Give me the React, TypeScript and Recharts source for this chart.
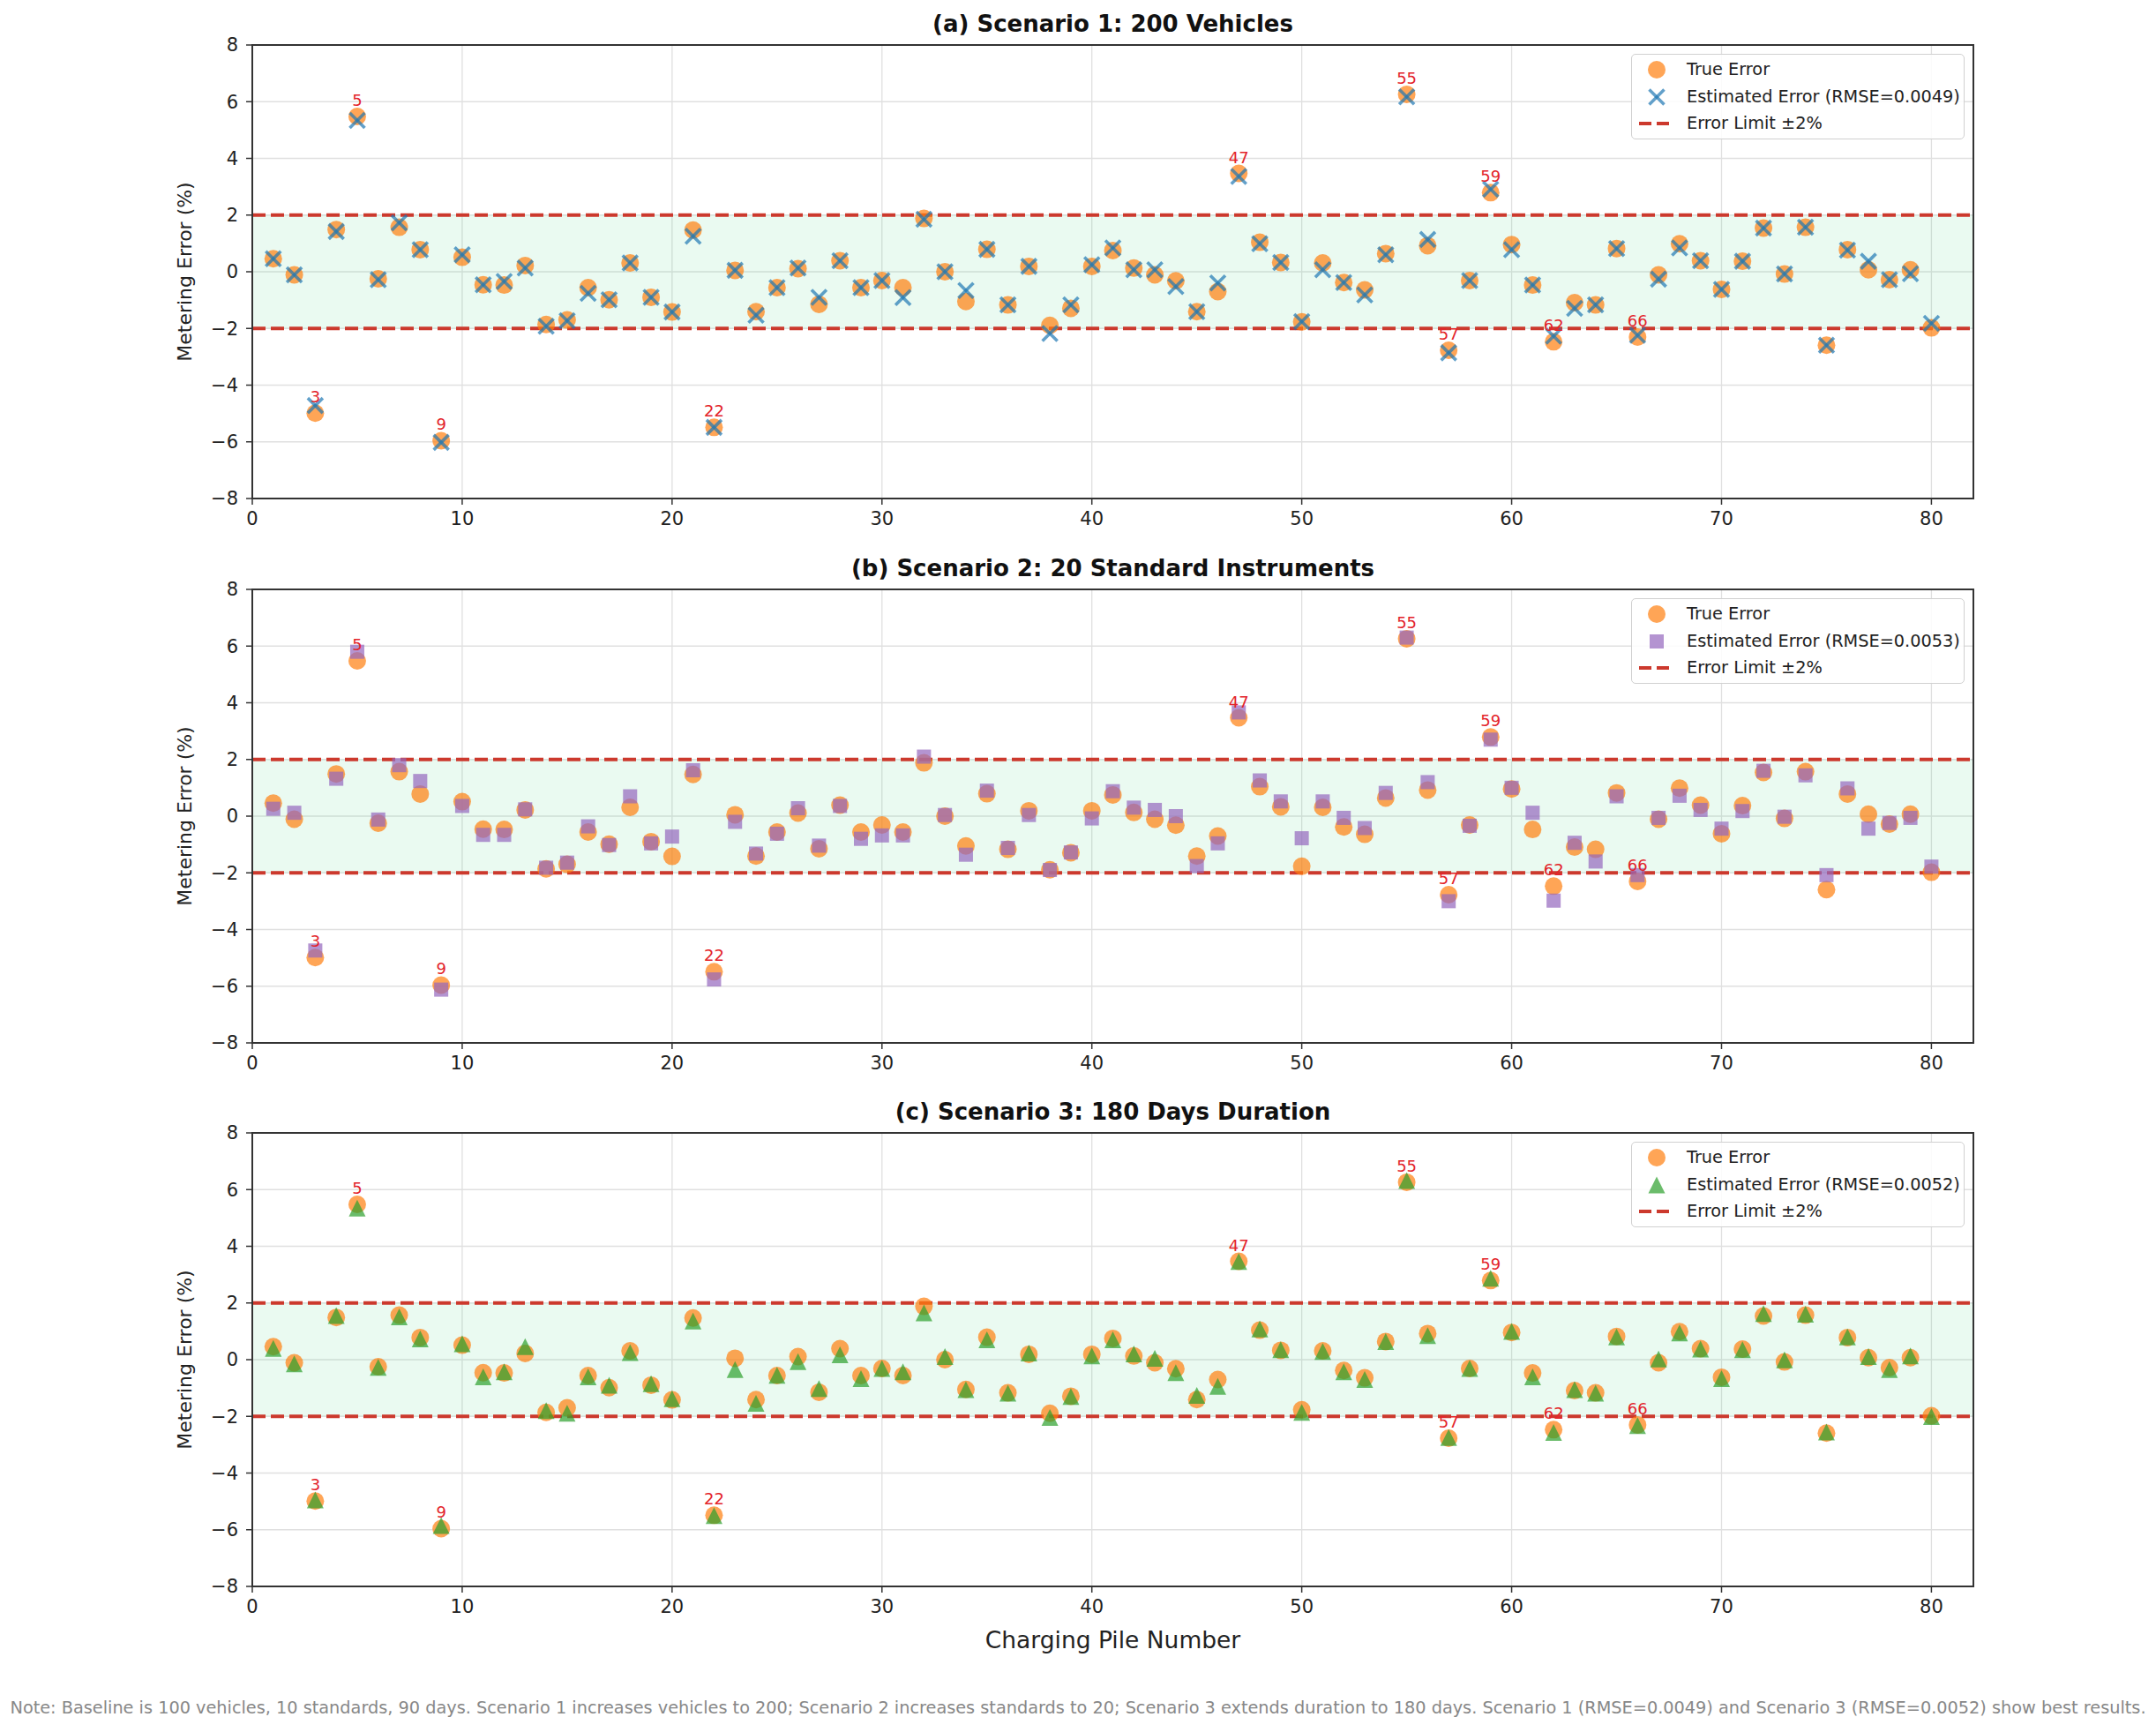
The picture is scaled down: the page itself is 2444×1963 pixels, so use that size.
import React from 'react';
import {
  ScatterChart,
  Scatter,
  XAxis,
  YAxis,
  CartesianGrid,
  ReferenceArea,
  ReferenceLine,
} from 'recharts';

const pileNumbers = [
  1, 2, 3, 4, 5, 6, 7, 8, 9, 10, 11, 12, 13, 14, 15, 16, 17, 18, 19, 20,
  21, 22, 23, 24, 25, 26, 27, 28, 29, 30, 31, 32, 33, 34, 35, 36, 37, 38, 39, 40,
  41, 42, 43, 44, 45, 46, 47, 48, 49, 50, 51, 52, 53, 54, 55, 56, 57, 58, 59, 60,
  61, 62, 63, 64, 65, 66, 67, 68, 69, 70, 71, 72, 73, 74, 75, 76, 77, 78, 79, 80,
];

const trueError = [
  0.46, -0.11, -4.99, 1.49, 5.48, -0.25, 1.57, 0.78, -5.96, 0.51,
  -0.46, -0.47, 0.22, -1.86, -1.7, -0.56, -0.99, 0.31, -0.9, -1.42,
  1.47, -5.49, 0.05, -1.41, -0.56, 0.11, -1.15, 0.39, -0.56, -0.31,
  -0.56, 1.88, 0.0, -1.05, 0.79, -1.17, 0.19, -1.89, -1.29, 0.19,
  0.75, 0.13, -0.11, -0.32, -1.41, -0.7, 3.47, 1.04, 0.33, -1.77,
  0.31, -0.38, -0.64, 0.64, 6.26, 0.92, -2.77, -0.31, 2.79, 0.96,
  -0.47, -2.47, -1.09, -1.17, 0.82, -2.3, -0.11, 0.99, 0.39, -0.62,
  0.37, 1.54, -0.08, 1.57, -2.59, 0.78, 0.07, -0.28, 0.07, -1.98,
];

const estScenario1 = [
  0.46, -0.11, -4.72, 1.42, 5.34, -0.28, 1.73, 0.78, -6.02, 0.6,
  -0.46, -0.34, 0.13, -1.92, -1.73, -0.76, -0.99, 0.31, -0.9, -1.42,
  1.25, -5.49, 0.05, -1.53, -0.56, 0.13, -0.9, 0.39, -0.56, -0.31,
  -0.91, 1.85, 0.0, -0.66, 0.79, -1.17, 0.19, -2.18, -1.17, 0.25,
  0.84, 0.07, 0.07, -0.52, -1.41, -0.4, 3.36, 0.99, 0.33, -1.76,
  0.07, -0.38, -0.82, 0.6, 6.17, 1.14, -2.86, -0.31, 2.91, 0.78,
  -0.47, -2.27, -1.29, -1.17, 0.82, -2.24, -0.26, 0.84, 0.39, -0.62,
  0.37, 1.54, -0.08, 1.57, -2.59, 0.76, 0.37, -0.28, -0.07, -1.82,
];

const estScenario2 = [
  0.26, 0.12, -4.74, 1.32, 5.8, -0.12, 1.8, 1.24, -6.12, 0.36,
  -0.66, -0.66, 0.24, -1.82, -1.64, -0.36, -1.02, 0.7, -0.96, -0.72,
  1.62, -5.76, -0.2, -1.32, -0.62, 0.28, -1.04, 0.36, -0.8, -0.68,
  -0.68, 2.1, 0.04, -1.36, 0.9, -1.12, 0.04, -1.9, -1.28, -0.08,
  0.88, 0.3, 0.22, 0.0, -1.76, -0.96, 3.66, 1.26, 0.52, -0.78,
  0.52, -0.06, -0.42, 0.82, 6.3, 1.2, -3.0, -0.34, 2.7, 1.0,
  0.12, -2.98, -0.94, -1.6, 0.7, -2.08, -0.06, 0.72, 0.22, -0.44,
  0.18, 1.6, -0.02, 1.44, -2.08, 0.98, -0.44, -0.24, -0.06, -1.78,
];

const estScenario3 = [
  0.4, -0.15, -4.95, 1.56, 5.35, -0.27, 1.51, 0.73, -5.85, 0.56,
  -0.61, -0.43, 0.46, -1.8, -1.89, -0.61, -0.9, 0.25, -0.85, -1.38,
  1.36, -5.5, -0.35, -1.54, -0.55, -0.07, -1.02, 0.17, -0.67, -0.31,
  -0.43, 1.65, 0.11, -1.06, 0.7, -1.18, 0.23, -2.04, -1.3, 0.13,
  0.7, 0.2, 0.05, -0.46, -1.26, -0.94, 3.46, 1.08, 0.35, -1.86,
  0.29, -0.43, -0.7, 0.64, 6.32, 0.85, -2.75, -0.31, 2.87, 1.0,
  -0.61, -2.57, -1.06, -1.18, 0.8, -2.33, 0.02, 0.94, 0.37, -0.67,
  0.35, 1.63, -0.01, 1.6, -2.55, 0.8, 0.11, -0.35, 0.13, -2.01,
];

const labeledPiles = [3, 5, 9, 22, 47, 55, 57, 59, 62, 66];

const xTicks = [0, 10, 20, 30, 40, 50, 60, 70, 80];
const yTicks = [-8, -6, -4, -2, 0, 2, 4, 6, 8];

const panelTitles = [
  '(a) Scenario 1: 200 Vehicles',
  '(b) Scenario 2: 20 Standard Instruments',
  '(c) Scenario 3: 180 Days Duration',
];
const rmseLabels = ['0.0049', '0.0053', '0.0052'];

const FONT = '"DejaVu Sans", Verdana, sans-serif';
const ORANGE = '#ff7f0e';
const RED_LINE = '#cc392d';
const LABEL_RED = '#e3242b';

const trueData = pileNumbers.map((p, i) => ({ x: p, y: trueError[i] }));
const labelData = labeledPiles.map((p) => ({ x: p, y: trueError[pileNumbers.indexOf(p)], label: String(p) }));

const CHART_W = 2444;
const CHART_H = 616;
const MARGIN = { top: 51, right: 207, bottom: 11, left: 206 };
const Y_AXIS_W = 80;
const X_AXIS_H = 40;
const PLOT_LEFT = MARGIN.left + Y_AXIS_W;
const PLOT_RIGHT = CHART_W - MARGIN.right;
const PLOT_H = CHART_H - MARGIN.top - MARGIN.bottom - X_AXIS_H;

type MarkerKind = 'x' | 'square' | 'triangle';

const markerColors: Record<MarkerKind, string> = {
  x: '#1f77b4',
  square: '#9467bd',
  triangle: '#2ca02c',
};

function drawMarker(kind: MarkerKind, cx: number, cy: number) {
  const c = markerColors[kind];
  if (kind === 'x') {
    const s = 8.5;
    return (
      <g>
        <line x1={cx - s} y1={cy - s} x2={cx + s} y2={cy + s} stroke={c} strokeOpacity={0.7} strokeWidth={3.6} />
        <line x1={cx - s} y1={cy + s} x2={cx + s} y2={cy - s} stroke={c} strokeOpacity={0.7} strokeWidth={3.6} />
      </g>
    );
  }
  if (kind === 'square') {
    const s = 8;
    return <rect x={cx - s} y={cy - s} width={2 * s} height={2 * s} fill={c} fillOpacity={0.7} />;
  }
  const w = 9.5;
  const h = 9.5;
  return (
    <polygon
      points={`${cx},${cy - h} ${cx - w},${cy + h} ${cx + w},${cy + h}`}
      fill={c}
      fillOpacity={0.7}
    />
  );
}

const fmtY = (v: number) => (v < 0 ? '\u2212' + Math.abs(v) : String(v));

function Legend({ kind, rmse }: { kind: MarkerKind; rmse: string }) {
  const rowStyle: React.CSSProperties = {
    position: 'absolute',
    left: 0,
    height: 30,
    width: '100%',
  };
  const textStyle: React.CSSProperties = {
    position: 'absolute',
    left: 62,
    top: 0,
    fontSize: 19.3,
    color: '#222',
    whiteSpace: 'nowrap',
    lineHeight: '30px',
  };
  return (
    <div
      style={{
        position: 'absolute',
        left: 1849,
        top: MARGIN.top + 10,
        width: 378,
        height: 97,
        boxSizing: 'border-box',
        border: '1.5px solid #d0d0d0',
        borderRadius: 5,
        background: 'rgba(255,255,255,0.85)',
        fontFamily: FONT,
      }}
    >
      <div style={{ ...rowStyle, top: 2 }}>
        <svg width={56} height={30} style={{ position: 'absolute', left: 0 }}>
          <circle cx={28} cy={15} r={10} fill={ORANGE} fillOpacity={0.7} />
        </svg>
        <span style={textStyle}>True Error</span>
      </div>
      <div style={{ ...rowStyle, top: 33 }}>
        <svg width={56} height={30} style={{ position: 'absolute', left: 0 }}>
          {drawMarker(kind, 28, 15)}
        </svg>
        <span style={textStyle}>{`Estimated Error (RMSE=${rmse})`}</span>
      </div>
      <div style={{ ...rowStyle, top: 63 }}>
        <svg width={56} height={30} style={{ position: 'absolute', left: 0 }}>
          <line x1={8} y1={15} x2={42} y2={15} stroke={RED_LINE} strokeWidth={4} strokeDasharray="14 6" />
        </svg>
        <span style={textStyle}>Error Limit ±2%</span>
      </div>
    </div>
  );
}

function Panel({
  top,
  title,
  est,
  kind,
  rmse,
}: {
  top: number;
  title: string;
  est: number[];
  kind: MarkerKind;
  rmse: string;
}) {
  const estData = pileNumbers.map((p, i) => ({ x: p, y: est[i] }));
  return (
    <div style={{ position: 'absolute', left: 0, top, width: CHART_W, height: CHART_H }}>
      <div
        style={{
          position: 'absolute',
          left: PLOT_LEFT,
          width: PLOT_RIGHT - PLOT_LEFT,
          top: 11,
          height: 32,
          lineHeight: '32px',
          textAlign: 'center',
          fontFamily: FONT,
          fontWeight: 'bold',
          fontSize: 26,
          color: '#111',
          whiteSpace: 'nowrap',
        }}
      >
        {title}
      </div>
      <div
        style={{
          position: 'absolute',
          left: 209.5 - 200,
          top: MARGIN.top + PLOT_H / 2 - 14,
          width: 400,
          height: 28,
          lineHeight: '28px',
          textAlign: 'center',
          fontFamily: FONT,
          fontSize: 22,
          color: '#222',
          transform: 'rotate(-90deg)',
        }}
      >
        Metering Error (%)
      </div>
      <ScatterChart width={CHART_W} height={CHART_H} margin={MARGIN}>
        <CartesianGrid stroke="#e0e0e0" strokeWidth={1.3} />
        <ReferenceArea x1={0} x2={82} y1={-2} y2={2} fill="#2ecc71" fillOpacity={0.1} stroke="none" />
        <XAxis
          type="number"
          dataKey="x"
          domain={[0, 82]}
          ticks={xTicks}
          allowDataOverflow
          height={X_AXIS_H}
          tickSize={7}
          tickMargin={8}
          axisLine={{ stroke: '#333', strokeWidth: 2 }}
          tickLine={{ stroke: '#333', strokeWidth: 1.5 }}
          tick={{ fontSize: 21, fill: '#222', fontFamily: FONT }}
        />
        <YAxis
          type="number"
          dataKey="y"
          domain={[-8, 8]}
          ticks={yTicks}
          allowDataOverflow
          width={Y_AXIS_W}
          tickSize={7}
          tickMargin={9}
          tickFormatter={fmtY}
          axisLine={{ stroke: '#333', strokeWidth: 2 }}
          tickLine={{ stroke: '#333', strokeWidth: 1.5 }}
          tick={{ fontSize: 21, fill: '#222', fontFamily: FONT }}
        />
        <ReferenceLine y={2} stroke={RED_LINE} strokeWidth={4} strokeDasharray="15 6" />
        <ReferenceLine y={-2} stroke={RED_LINE} strokeWidth={4} strokeDasharray="15 6" />
        <ReferenceArea x1={0} x2={82} y1={-8} y2={8} fill="none" fillOpacity={0} stroke="#333" strokeWidth={2} />
        <Scatter
          data={trueData}
          isAnimationActive={false}
          shape={(p: any) => <circle cx={p.cx} cy={p.cy} r={10} fill={ORANGE} fillOpacity={0.7} />}
        />
        <Scatter
          data={estData}
          isAnimationActive={false}
          shape={(p: any) => drawMarker(kind, p.cx, p.cy)}
        />
        <Scatter
          data={labelData}
          isAnimationActive={false}
          shape={(p: any) => (
            <text
              x={p.cx}
              y={p.cy - 12}
              textAnchor="middle"
              fontSize={18}
              fontFamily={FONT}
              fill={LABEL_RED}
            >
              {p.payload.label}
            </text>
          )}
        />
      </ScatterChart>
      <Legend kind={kind} rmse={rmse} />
    </div>
  );
}

export default function App() {
  return (
    <div
      style={{
        position: 'absolute',
        left: 0,
        top: 0,
        width: 2444,
        height: 1963,
        background: '#fff',
        fontFamily: FONT,
        overflow: 'hidden',
      }}
    >
      <Panel top={0} title={panelTitles[0]} est={estScenario1} kind="x" rmse={rmseLabels[0]} />
      <Panel top={617} title={panelTitles[1]} est={estScenario2} kind="square" rmse={rmseLabels[1]} />
      <Panel top={1233} title={panelTitles[2]} est={estScenario3} kind="triangle" rmse={rmseLabels[2]} />
      <div
        style={{
          position: 'absolute',
          left: PLOT_LEFT,
          width: PLOT_RIGHT - PLOT_LEFT,
          top: 1841,
          height: 36,
          lineHeight: '36px',
          textAlign: 'center',
          fontSize: 26.5,
          color: '#222',
        }}
      >
        Charging Pile Number
      </div>
      <div
        style={{
          position: 'absolute',
          left: 0,
          width: 2444,
          top: 1922,
          height: 28,
          lineHeight: '28px',
          textAlign: 'center',
          fontSize: 19.3,
          color: '#888',
          whiteSpace: 'nowrap',
        }}
      >
        Note: Baseline is 100 vehicles, 10 standards, 90 days. Scenario 1 increases vehicles to 200; Scenario 2 increases standards to 20; Scenario 3 extends duration to 180 days. Scenario 1 (RMSE=0.0049) and Scenario 3 (RMSE=0.0052) show best results.
      </div>
    </div>
  );
}
